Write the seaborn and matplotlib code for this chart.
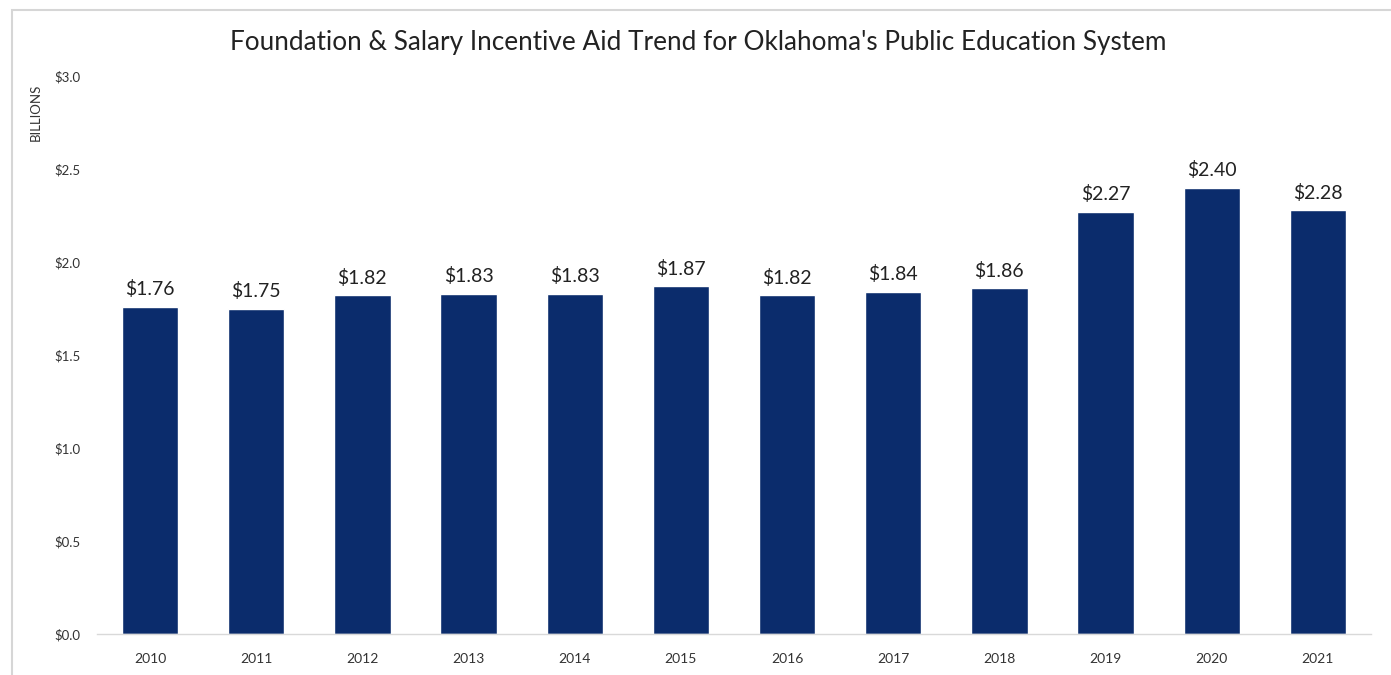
import matplotlib
matplotlib.use("Agg")
import matplotlib.pyplot as plt
import seaborn as sns
import pandas as pd
from matplotlib.patches import Rectangle

years = ["2010", "2011", "2012", "2013", "2014", "2015", "2016", "2017", "2018", "2019", "2020", "2021"]
aid_billions = [1.76, 1.75, 1.82, 1.83, 1.83, 1.87, 1.82, 1.84, 1.86, 2.27, 2.40, 2.28]
y_ticks = [0.0, 0.5, 1.0, 1.5, 2.0, 2.5, 3.0]
y_tick_labels = ["$0.0", "$0.5", "$1.0", "$1.5", "$2.0", "$2.5", "$3.0"]

df = pd.DataFrame({"year": years, "aid": aid_billions})

sns.set_theme(style="white")
plt.rcParams["font.family"] = ["Lato", "DejaVu Sans"]

fig = plt.figure(figsize=(13.91, 6.75), dpi=100)
ax = fig.add_axes([0.0697, 0.0607, 0.9159, 0.8267])

sns.barplot(data=df, x="year", y="aid", color="#0b2c6c", saturation=1, width=0.53, ax=ax)

for i, v in enumerate(aid_billions):
    ax.text(i, v + 0.045, f"${v:.2f}", ha="center", va="bottom", fontsize=14, color="#222222")

ax.set_ylim(0, 3.0)
ax.set_xlim(-0.5, len(years) - 0.5)
ax.set_yticks(y_ticks)
ax.set_yticklabels(y_tick_labels, fontsize=9.5, color="#333333")
ax.tick_params(axis="x", labelsize=10, colors="#333333", length=0, pad=14)
ax.tick_params(axis="y", length=0, pad=12)
ax.set_xlabel("")
ax.set_ylabel("")

for side in ["top", "right", "left"]:
    ax.spines[side].set_visible(False)
ax.spines["bottom"].set_color("#d9d9d9")
ax.spines["bottom"].set_linewidth(1.0)

fig.text(0.026, 0.834, "BILLIONS", rotation=90, fontsize=9.5, color="#333333", ha="center", va="center")
fig.suptitle("Foundation & Salary Incentive Aid Trend for Oklahoma's Public Education System",
             x=0.502, y=0.955, fontsize=18.8, color="#222222")

fig.patches.append(Rectangle((0.0086, -0.01), 1.0, 0.995, transform=fig.transFigure,
                             fill=False, edgecolor="#d6d6d6", linewidth=1.5))

fig.savefig("out.png", dpi=100)
